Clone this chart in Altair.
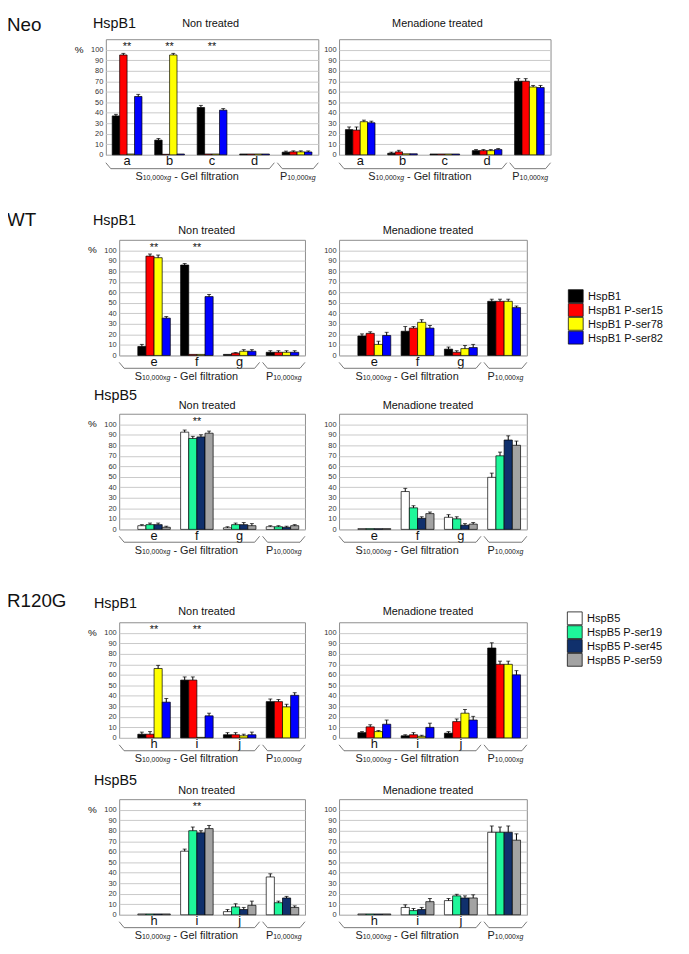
import altair as alt
import pandas as pd

FONT = "Liberation Sans"

# ---------------- data ----------------
groups_neo = ["a", "b", "c", "d", "P"]
groups_wt = ["e", "f", "g", "P"]
groups_r120g = ["h", "i", "j", "P"]

hspb1_series = ["HspB1", "HspB1 P-ser15", "HspB1 P-ser78", "HspB1 P-ser82"]
hspb1_colors = ["#000000", "#ff0000", "#ffff00", "#0000ff"]
hspb5_series = ["HspB5", "HspB5 P-ser19", "HspB5 P-ser45", "HspB5 P-ser59"]
hspb5_colors = ["#ffffff", "#1ef79a", "#10306c", "#a3a3a3"]

# one list per series, in group order
neo_nt_val = [[37, 14, 45, 0.8, 2.5], [95, 0.5, 0.8, 0.8, 2.8], [0.8, 95, 0.8, 0.8, 2.8], [55.5, 0.8, 42.5, 0.8, 2.7]]
neo_nt_err = [[1.5, 1.5, 2, 0, 1], [1.5, 0, 0, 0, 1], [0, 1.5, 0, 0, 1], [2, 0, 1.5, 0, 1]]
neo_nt_stars = ["a", "b", "c"]

neo_men_val = [[24, 1.5, 0.8, 4, 70], [23.5, 2.8, 0.8, 4, 70], [31.5, 1, 0.8, 4, 64.5], [30.5, 1, 0.8, 5, 64]]
neo_men_err = [[2.5, 1, 0, 1, 2.5], [3, 1.5, 0, 1, 2.5], [1.5, 0, 0, 1, 1.5], [1.5, 0, 0, 1, 2]]

wt_b1_nt_val = [[8.5, 86, 1, 3], [94.5, 1, 2.2, 3], [93, 1, 4, 3], [35.5, 56, 4, 3]]
wt_b1_nt_err = [[2, 1.5, 0, 1.5], [2, 0, 0.5, 1.5], [2.5, 0, 1.5, 1.5], [1.5, 2, 1.5, 1.5]]
wt_b1_nt_stars = ["e", "f"]

wt_b1_men_val = [[18.5, 23, 6, 51.5], [21, 26, 3, 51.5], [10.5, 31.5, 6.5, 51.5], [19, 26, 7.5, 45.5]]
wt_b1_men_err = [[2, 4.5, 2, 2], [1.5, 1.5, 1.5, 2], [3, 2.5, 3, 2], [3, 2.5, 3, 1.5]]

wt_b5_nt_val = [[3.5, 92.5, 1.5, 2.5], [4.5, 86.5, 4.5, 2.5], [4.5, 88, 4.5, 2], [2, 91.5, 3.5, 3.5]]
wt_b5_nt_err = [[1, 2, 1, 1], [1.5, 2, 1.5, 1], [1.5, 2, 2, 1], [1, 2, 2, 1]]
wt_b5_nt_stars = ["f"]

wt_b5_men_val = [[0.7, 36, 11.5, 49.5], [0.7, 20.5, 10, 70], [0.7, 10.5, 4, 85], [0.7, 15, 5, 80]]
wt_b5_men_err = [[0, 3, 2.5, 4], [0, 2, 2, 3.5], [0, 1.5, 1.5, 4], [0, 1.5, 1.5, 4]]

r_b1_nt_val = [[3.5, 55, 3, 34.5], [3.5, 55, 3, 34.5], [66, 0.5, 2, 29.5], [34, 21, 3, 40.5]]
r_b1_nt_err = [[2, 3, 2, 2.5], [2.5, 3, 2, 2], [3, 0, 1.5, 2.5], [3.5, 2.5, 2.5, 2.5]]
r_b1_nt_stars = ["h", "i"]

r_b1_men_val = [[5, 2, 4.5, 85.5], [10.5, 3, 15.5, 70], [6, 1.5, 23.5, 70], [13, 10, 17, 60]]
r_b1_men_err = [[1, 1, 1.5, 5], [2, 2, 2.5, 3], [1, 1, 3.5, 3], [4, 4, 3.5, 4]]

r_b5_nt_val = [[0.8, 60.5, 3, 36], [0.8, 80, 7.5, 11.5], [0.8, 78, 5, 16], [0.8, 82, 9, 7]]
r_b5_nt_err = [[0, 2, 2, 3], [0, 3.5, 3, 1.5], [0, 2, 2, 1.5], [0, 3, 4, 1.5]]
r_b5_nt_stars = ["i"]

r_b5_men_val = [[0.8, 7, 13.5, 78.5], [0.8, 4, 18, 78.5], [0.8, 5, 16, 78.5], [0.8, 12.5, 16, 71]]
r_b5_men_err = [[0, 2.5, 2, 6], [0, 2, 1.5, 5], [0, 2, 2, 6], [0, 3, 3, 6]]

# ---------------- layout helpers ----------------
H = 117
YMAX = 110
CHARW = {"S": .667, "P": .667, "1": .556, "0": .556, ",": .278, "x": .5, "g": .556, " ": .278,
         "-": .333, "G": .778, "e": .556, "l": .222, "f": .278, "i": .222, "t": .278, "r": .333,
         "a": .556, "o": .556, "n": .556}


def tw(s, size):
    return sum(CHARW[c] for c in s) * size


def one():
    return pd.DataFrame({"d": [0]})


def txt(s, x, y, size, align="left", style="normal", color="#111", baseline="alphabetic"):
    return alt.Chart(one()).mark_text(text=s, font=FONT, fontSize=size, align=align, baseline=baseline,
                                      fontStyle=style, color=color).encode(x=alt.value(x), y=alt.value(y))


def seg(x1, y1, x2, y2):
    return alt.Chart(one()).mark_rule(color="#555", strokeWidth=0.8).encode(
        x=alt.value(x1), y=alt.value(y1), x2=alt.value(x2), y2=alt.value(y2))


def brace(x1, x2, yt, yb):
    d = 5
    return [seg(x1, yt, x1 + d, yb), seg(x1 + d, yb, x2 - d, yb), seg(x2 - d, yb, x2, yt)]


def frac_label(letter, center, base, tail):
    pieces = [(letter, 11, "normal"), ("10,000x", 7, "normal"), ("g", 7, "italic")]
    total = sum(tw(p, s) for p, s, _ in pieces)
    if tail:
        total += tw(" - Gel filtration", 11)
    x = center - total / 2
    out = []
    for p, s, st in pieces:
        out.append(txt(p, x, base, s, style=st, color="#222"))
        x += tw(p, s)
    if tail:
        x += tw(" ", 11)
        out.append(txt("- Gel filtration", x, base, 11, color="#222"))
    return out


def legend_layers(series, colors, x, y0, origin):
    # swatch + label for every series, positioned in page pixels
    ox, oy = origin
    out = []
    for i, (s, c) in enumerate(zip(series, colors)):
        cy = y0 + 14 * i
        out.append(alt.Chart(one()).mark_rect(fill=c, stroke="#111", strokeWidth=0.8).encode(
            x=alt.value(x - ox), x2=alt.value(x + 15 - ox), y=alt.value(cy - 6.5 - oy), y2=alt.value(cy + 6.5 - oy)))
        out.append(txt(s, x + 20 - ox, cy + 4 - oy, 11.2, color="#111"))
    return out


def panel(groups, series, colors, vals, errs, stars, width, origin, texts, left, is_neo=False, legend=None):
    ox, oy = origin
    rows = []
    for si, s in enumerate(series):
        for gi, g in enumerate(groups):
            rows.append({"grp": g, "ser": s, "val": vals[si][gi],
                         "top": vals[si][gi] + errs[si][gi], "err": errs[si][gi]})
    df = pd.DataFrame(rows)
    pi, po, al = (0.3, 0.15, 0.5) if is_neo else (0.24, 0.29, 0.75)
    n = len(groups)
    step = width / (n - pi + 2 * po)
    start = (width - step * (n - pi)) * al
    split = start + step * (n - 1) - step * pi / 2

    x = alt.X("grp:N", scale=alt.Scale(type="band", domain=groups, paddingInner=pi, paddingOuter=po, align=al),
              axis=alt.Axis(title=None, labelAngle=0, ticks=False, tickSize=0, domain=False, grid=False,
                            labelExpr="datum.value == 'P' ? '' : datum.value", labelFont=FONT,
                            labelFontSize=13, labelColor="#111", labelBaseline="alphabetic", labelPadding=10))
    xo = alt.XOffset("ser:N", scale=alt.Scale(type="band", domain=series, paddingInner=0, paddingOuter=0))
    ysc = alt.Scale(domain=[0, YMAX], nice=False, zero=True)
    yax = alt.Axis(title=None, values=list(range(0, 101, 10)), ticks=False, domain=False, labelFont=FONT,
                   labelFontSize=7.5, labelColor="#333", labelPadding=3, gridColor="#c9c9c9", gridWidth=1)
    color = alt.Color("ser:N", scale=alt.Scale(domain=series, range=colors), legend=None)

    bars = alt.Chart(df).mark_bar(stroke="black", strokeWidth=0.7).encode(
        x=x, xOffset=xo, y=alt.Y("val:Q", scale=ysc, axis=yax), color=color)
    ed = df[df.err > 0]
    rule = alt.Chart(ed).mark_rule(color="black", strokeWidth=1).encode(
        x=x, xOffset=xo, y=alt.Y("val:Q", scale=ysc, axis=yax), y2="top:Q")
    cap = alt.Chart(ed).mark_tick(color="black", thickness=1, size=4, orient="horizontal").encode(
        x=x, xOffset=xo, y=alt.Y("top:Q", scale=ysc, axis=yax))
    layers = [bars, rule, cap]
    if stars:
        sdf = pd.DataFrame({"grp": stars, "t": ["**"] * len(stars)})
        layers.append(alt.Chart(sdf).mark_text(font=FONT, fontSize=11, baseline="middle", color="#111").encode(
            x=x, y=alt.value(H - 102.5 * H / YMAX), text="t:N"))
    if left:
        layers.append(txt("%", -27, H - 100 * H / YMAX, 10, align="center", baseline="middle"))
    for (s, px, py, size, align) in texts:
        layers.append(txt(s, px - ox, py - oy, size, align=align, color="#111"))
    yt, yb = (125, 131) if is_neo else (124, 130)
    base = 142 if is_neo else 141.5
    layers += brace(0, split - 1.5, yt, yb)
    layers += brace(split + 1.5, width, yt, yb)
    layers += frac_label("S", (split - 1.5) / 2 - 3, base, True)
    layers += frac_label("P", (split + 1.5 + width) / 2, base, False)
    if legend:
        layers += legend_layers(series, colors, legend[0], legend[1], origin)
    return alt.layer(*layers).properties(width=width, height=H)


def spacer(h):
    return alt.Chart(one()).mark_point(opacity=0).encode(x=alt.value(0), y=alt.value(0)).properties(
        width=1, height=h, view=alt.ViewBackground(strokeOpacity=0))


p1l = panel(groups_neo, hspb1_series, hspb1_colors, neo_nt_val, neo_nt_err, neo_nt_stars, 215, (107, 34),
            [("Neo", 7, 25.5, 19, "left"), ("HspB1", 94, 22.5, 14.5, "left"), ("Non treated", 213, 22, 11, "center")],
            True, is_neo=True)
p1r = panel(groups_neo, hspb1_series, hspb1_colors, neo_men_val, neo_men_err, [], 214, (343.5, 34),
            [("Menadione treated", 443, 22, 11, "center")], False, is_neo=True)

p2l = panel(groups_wt, hspb1_series, hspb1_colors, wt_b1_nt_val, wt_b1_nt_err, wt_b1_nt_stars, 188, (120.5, 237),
            [("WT", 7, 223, 19, "left"), ("HspB1", 94, 222, 14.5, "left"), ("Non treated", 209, 231, 11, "center")],
            True)
p2r = panel(groups_wt, hspb1_series, hspb1_colors, wt_b1_men_val, wt_b1_men_err, [], 190, (355, 237),
            [("Menadione treated", 445, 231, 11, "center")], False, legend=(587, 294))

p3l = panel(groups_wt, hspb5_series, hspb5_colors, wt_b5_nt_val, wt_b5_nt_err, wt_b5_nt_stars, 188, (120.5, 413),
            [("HspB5", 95, 399, 14.5, "left"), ("Non treated", 209.5, 408, 11, "center")], True)
p3r = panel(groups_wt, hspb5_series, hspb5_colors, wt_b5_men_val, wt_b5_men_err, [], 190, (355, 413),
            [("Menadione treated", 445, 408, 11, "center")], False)

p4l = panel(groups_r120g, hspb1_series, hspb1_colors, r_b1_nt_val, r_b1_nt_err, r_b1_nt_stars, 188, (120.5, 624),
            [("R120G", 7, 609, 19, "left"), ("HspB1", 95, 610, 14.5, "left"), ("Non treated", 209, 617, 11, "center")],
            True)
p4r = panel(groups_r120g, hspb1_series, hspb1_colors, r_b1_men_val, r_b1_men_err, [], 190, (355, 624),
            [("Menadione treated", 445, 617, 11, "center")], False)

p5l = panel(groups_r120g, hspb5_series, hspb5_colors, r_b5_nt_val, r_b5_nt_err, r_b5_nt_stars, 188, (120.5, 803),
            [("HspB5", 95, 789, 14.5, "left"), ("Non treated", 209, 798, 11, "center")], True)
p5r = panel(groups_r120g, hspb5_series, hspb5_colors, r_b5_men_val, r_b5_men_err, [], 190, (355, 803),
            [("Menadione treated", 445, 798, 11, "center")], False, legend=(586, 620))

cells = [p1l, p1r, spacer(66), spacer(66),
         p2l, p2r, spacer(39), spacer(39),
         p3l, p3r, spacer(74), spacer(74),
         p4l, p4r, spacer(42), spacer(42),
         p5l, p5r]

chart = alt.concat(*cells, columns=2, spacing={"row": 10, "column": 21}, bounds="flush", center=True,
                   align="each").resolve_scale(color="independent", xOffset="independent").properties(
    autosize=alt.AutoSizeParams(type="none"),
    padding={"left": 99, "top": 26, "right": 582, "bottom": 912},
).configure_view(stroke="#8c8c8c", strokeWidth=1)

chart.save("out.html", embed_options={"renderer": "svg", "actions": False})
